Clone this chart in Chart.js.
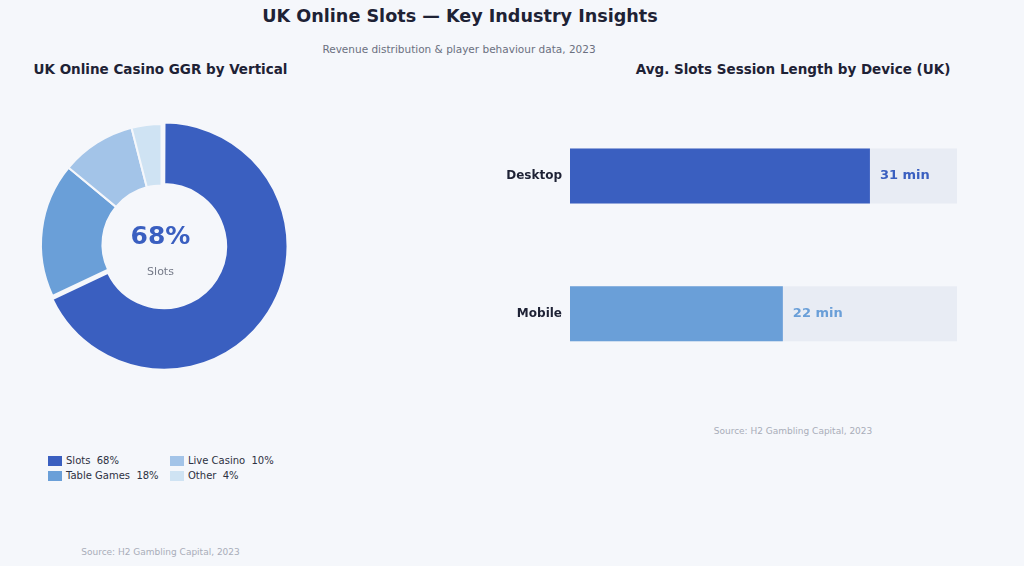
<!DOCTYPE html>
<html>
<head>
<meta charset="utf-8">
<script src="https://cdn.jsdelivr.net/npm/chart.js@4.4.0/dist/chart.umd.min.js"></script>
<style>
  body { margin: 0; width: 1024px; height: 566px; background: #f5f7fb; font-family: "DejaVu Sans", sans-serif; position: relative; overflow: hidden; }
  .txt { position: absolute; white-space: nowrap; transform: translate(-50%, -50%); }
  #title { left: 460px; top: 16px; font-size: 17.6px; font-weight: bold; color: #1e2235; }
  #subtitle { left: 459px; top: 49px; font-size: 10.5px; color: #6b7080; }
  .panel-title { top: 69px; font-size: 13.5px; font-weight: bold; color: #1e2235; }
  .source { font-size: 9px; color: #a9adb9; }
  #donutBox { position: absolute; left: 33.5px; top: 117px; width: 255px; height: 255px; }
  #barBox { position: absolute; left: 490px; top: 100px; width: 490px; height: 290px; }
  #legend { position: absolute; left: 48px; top: 453px; display: grid; grid-template-rows: 15px 15px; grid-auto-flow: column; grid-auto-columns: 122px; font-size: 10px; color: #2d3142; }
  #legend .item { display: flex; align-items: center; white-space: pre; }
  #legend .box { width: 14px; height: 10px; margin-right: 4px; }
</style>
</head>
<body>
<div class="txt" id="title">UK Online Slots — Key Industry Insights</div>
<div class="txt" id="subtitle">Revenue distribution &amp; player behaviour data, 2023</div>
<div class="txt panel-title" style="left:160.5px">UK Online Casino GGR by Vertical</div>
<div class="txt panel-title" style="left:793px">Avg. Slots Session Length by Device (UK)</div>

<div id="donutBox"><canvas id="donutChart"></canvas></div>
<div id="legend"></div>
<div class="txt source" style="left:160.5px; top:552px">Source: H2 Gambling Capital, 2023</div>

<div id="barBox"><canvas id="barChart"></canvas></div>
<div class="txt source" style="left:793px; top:431px">Source: H2 Gambling Capital, 2023</div>

<script>
// GGR share by vertical (%)
const verticals = ['Slots', 'Table Games', 'Live Casino', 'Other'];
const shares = [68, 18, 10, 4];
const verticalColors = ['#3a5fc0', '#6a9fd8', '#a3c4e8', '#cfe3f3'];

// Session length by device (minutes)
const devices = ['Desktop', 'Mobile'];
const sessionMinutes = [31, 22];
const deviceColors = ['#3a5fc0', '#6a9fd8'];
const sessionMax = 40;

// HTML legend, two columns
const legendEl = document.getElementById('legend');
verticals.forEach((name, i) => {
    const item = document.createElement('div');
    item.className = 'item';
    item.innerHTML = '<span class="box" style="background:' + verticalColors[i] + '"></span>' + name + '  ' + shares[i] + '%';
    legendEl.appendChild(item);
});

// center label for the doughnut
const centerText = {
    id: 'centerText',
    afterDraw(chart) {
        const ctx = chart.ctx;
        const a = chart.chartArea;
        const cx = (a.left + a.right) / 2;
        const cy = (a.top + a.bottom) / 2;
        ctx.save();
        ctx.textAlign = 'center';
        ctx.textBaseline = 'middle';
        ctx.fillStyle = verticalColors[0];
        ctx.font = 'bold 25px "DejaVu Sans"';
        ctx.fillText(shares[0] + '%', cx - 1, cy - 7);
        ctx.fillStyle = '#757a88';
        ctx.font = '11px "DejaVu Sans"';
        ctx.fillText(verticals[0], cx - 1, cy + 28);
        ctx.restore();
    }
};

new Chart(document.getElementById('donutChart'), {
    type: 'doughnut',
    data: {
        labels: verticals,
        datasets: [{
            data: shares,
            backgroundColor: verticalColors,
            borderColor: '#f5f7fb',
            borderWidth: 2,
            offset: [12, 0, 0, 0]
        }]
    },
    options: {
        responsive: true,
        maintainAspectRatio: false,
        animation: false,
        cutout: '49%',
        layout: { padding: 0 },
        plugins: {
            legend: { display: false },
            tooltip: { enabled: false }
        }
    },
    plugins: [centerText]
});

// value labels at bar ends
const barValues = {
    id: 'barValues',
    afterDatasetsDraw(chart) {
        const ctx = chart.ctx;
        const meta = chart.getDatasetMeta(0);
        ctx.save();
        ctx.font = 'bold 13px "DejaVu Sans"';
        ctx.textBaseline = 'middle';
        ctx.textAlign = 'left';
        meta.data.forEach((bar, i) => {
            ctx.fillStyle = deviceColors[i];
            ctx.fillText(sessionMinutes[i] + ' min', bar.x + 10, bar.y);
        });
        ctx.restore();
    }
};

new Chart(document.getElementById('barChart'), {
    type: 'bar',
    data: {
        labels: devices,
        datasets: [
            {
                data: sessionMinutes,
                backgroundColor: deviceColors,
                borderWidth: 0,
                grouped: false,
                order: 0
            },
            {
                data: devices.map(() => sessionMax),
                backgroundColor: '#e8ecf4',
                borderWidth: 0,
                grouped: false,
                order: 1
            }
        ]
    },
    options: {
        indexAxis: 'y',
        responsive: true,
        maintainAspectRatio: false,
        animation: false,
        barPercentage: 0.4,
        categoryPercentage: 1,
        layout: { padding: { top: 6.5, bottom: 7.5, right: 23, left: 0 } },
        scales: {
            x: { display: false, min: 0, max: sessionMax },
            y: {
                grid: { display: false },
                border: { display: false },
                afterFit(scale) { scale.width = 80; },
                ticks: {
                    padding: 0,
                    color: '#1e2235',
                    font: { family: 'DejaVu Sans', size: 12, weight: 'bold' }
                }
            }
        },
        plugins: {
            legend: { display: false },
            tooltip: { enabled: false }
        }
    },
    plugins: [barValues]
});
</script>
</body>
</html>
